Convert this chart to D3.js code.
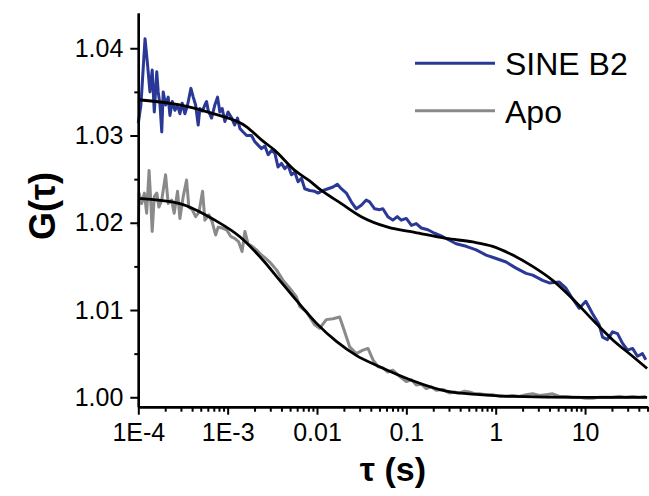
<!DOCTYPE html>
<html lang="en">
<head>
  <meta charset="UTF-8">
  <title>FCS curves</title>
  <script src="https://d3js.org/d3.v7.min.js"></script>
  <style>
    body { margin: 0; background: #fff; }
    svg { display: block; font-family: "Liberation Sans", Arial, sans-serif; }
  </style>
</head>
<body>
<div class="main"></div>
<script>

  // series: [tau (s), G(tau)]
  var sineB2 = [[1.00e-4,1.0314],[1.07e-4,1.0335],[1.19e-4,1.0411],[1.27e-4,1.0381],[1.35e-4,1.0350],[1.43e-4,1.0375],[1.51e-4,1.0327],[1.61e-4,1.0373],[1.67e-4,1.0350],[1.75e-4,1.0335],[1.83e-4,1.0304],[1.90e-4,1.0350],[2.02e-4,1.0335],[2.16e-4,1.0344],[2.26e-4,1.0323],[2.40e-4,1.0339],[2.57e-4,1.0329],[2.75e-4,1.0335],[2.92e-4,1.0325],[3.10e-4,1.0337],[3.32e-4,1.0325],[3.56e-4,1.0335],[3.88e-4,1.0354],[4.12e-4,1.0344],[4.38e-4,1.0335],[4.68e-4,1.0312],[4.89e-4,1.0331],[5.21e-4,1.0328],[5.56e-4,1.0335],[5.81e-4,1.0339],[6.05e-4,1.0329],[6.61e-4,1.0320],[7.19e-4,1.0335],[7.71e-4,1.0344],[8.18e-4,1.0327],[8.69e-4,1.0331],[9.31e-4,1.0316],[1.01e-3,1.0327],[1.11e-3,1.0320],[1.20e-3,1.0312],[1.29e-3,1.0320],[1.37e-3,1.0308],[1.49e-3,1.0304],[1.63e-3,1.0300],[1.85e-3,1.0300],[2.01e-3,1.0293],[2.19e-3,1.0289],[2.39e-3,1.0285],[2.61e-3,1.0288],[2.84e-3,1.0278],[3.10e-3,1.0283],[3.37e-3,1.0280],[3.66e-3,1.0264],[4.00e-3,1.0268],[4.36e-3,1.0262],[4.74e-3,1.0266],[5.18e-3,1.0255],[5.64e-3,1.0258],[6.14e-3,1.0247],[6.70e-3,1.0251],[7.29e-3,1.0239],[8.28e-3,1.0237],[9.42e-3,1.0236],[1.03e-2,1.0234],[1.17e-2,1.0237],[1.33e-2,1.0239],[1.51e-2,1.0241],[1.69e-2,1.0244],[1.87e-2,1.0239],[2.13e-2,1.0234],[2.42e-2,1.0224],[2.75e-2,1.0216],[3.13e-2,1.0220],[3.56e-2,1.0226],[3.88e-2,1.0224],[4.42e-2,1.0216],[5.02e-2,1.0215],[5.46e-2,1.0216],[6.21e-2,1.0207],[7.06e-2,1.0203],[7.91e-2,1.0207],[8.77e-2,1.0203],[9.98e-2,1.0205],[0.114,1.0197],[0.129,1.0199],[0.147,1.0194],[0.174,1.0192],[0.207,1.0188],[0.245,1.0185],[0.304,1.0180],[0.361,1.0176],[0.467,1.0173],[0.604,1.0169],[0.782,1.0163],[1.01,1.0159],[1.31,1.0155],[1.69,1.0148],[2.19,1.0142],[2.59,1.0140],[3.35,1.0134],[3.98,1.0131],[5.15,1.0132],[6.12,1.0125],[7.24,1.0113],[8.61,1.0102],[10.2,1.0110],[12.1,1.0096],[14.4,1.0083],[15.7,1.0069],[17.8,1.0066],[20.3,1.0075],[23.1,1.0073],[26.2,1.0062],[29.9,1.0054],[34.0,1.0056],[38.6,1.0047],[43.9,1.0050],[47.9,1.0043]];

  var apo = [[1.00e-4,1.0195],[1.02e-4,1.0234],[1.09e-4,1.0222],[1.17e-4,1.0234],[1.24e-4,1.0211],[1.32e-4,1.0260],[1.39e-4,1.0218],[1.43e-4,1.0190],[1.51e-4,1.0230],[1.61e-4,1.0234],[1.70e-4,1.0218],[1.83e-4,1.0226],[2.02e-4,1.0255],[2.16e-4,1.0222],[2.36e-4,1.0226],[2.52e-4,1.0211],[2.75e-4,1.0236],[2.92e-4,1.0205],[3.18e-4,1.0230],[3.47e-4,1.0249],[3.68e-4,1.0218],[4.01e-4,1.0215],[4.38e-4,1.0207],[4.77e-4,1.0212],[5.24e-4,1.0236],[5.56e-4,1.0203],[6.17e-4,1.0209],[6.71e-4,1.0201],[7.33e-4,1.0186],[7.83e-4,1.0195],[8.69e-4,1.0194],[9.72e-4,1.0192],[1.09e-3,1.0184],[1.20e-3,1.0182],[1.33e-3,1.0178],[1.45e-3,1.0167],[1.56e-3,1.0190],[1.69e-3,1.0176],[1.88e-3,1.0173],[2.10e-3,1.0169],[2.39e-3,1.0163],[2.61e-3,1.0160],[2.96e-3,1.0155],[3.52e-3,1.0146],[4.17e-3,1.0134],[4.95e-3,1.0125],[5.89e-3,1.0115],[6.41e-3,1.0104],[7.62e-3,1.0098],[9.42e-3,1.0083],[1.07e-2,1.0079],[1.27e-2,1.0089],[1.51e-2,1.0090],[1.79e-2,1.0092],[1.95e-2,1.0081],[2.32e-2,1.0058],[2.75e-2,1.0050],[3.27e-2,1.0054],[3.72e-2,1.0056],[4.23e-2,1.0043],[4.81e-2,1.0035],[5.42e-2,1.0034],[6.17e-2,1.0029],[7.06e-2,1.0031],[8.39e-2,1.0024],[9.98e-2,1.0018],[0.114,1.0020],[0.129,1.0014],[0.147,1.0015],[0.167,1.0010],[0.190,1.0012],[0.216,1.0008],[0.256,1.0009],[0.304,1.0005],[0.346,1.0006],[0.393,1.0005],[0.447,1.0007],[0.508,1.0006],[0.578,1.0004],[0.658,1.0004],[0.782,1.0003],[0.925,1.0003],[1.10,1.0001],[1.31,1.0001],[1.55,1.0002],[1.84,1.0001],[2.19,1.0003],[2.59,1.0004],[3.08,1.0002],[3.66,1.0003],[4.34,1.0004],[5.15,1.0001],[6.12,1.0001],[7.24,1.0000],[8.61,1.0000],[10.2,0.9999],[12.1,0.9999],[14.4,1.0000],[17.1,1.0000],[20.3,1.0000],[24.1,1.0001],[28.6,1.0000],[34.0,1.0001],[40.4,1.0000],[47.9,1.0001]];

  // fitted curves (black)
  var sineB2Fit = [[1.00e-4,1.0341],[2.92e-4,1.0335],[6.89e-4,1.0325],[1.63e-3,1.0310],[2.39e-3,1.0295],[3.37e-3,1.0283],[5.64e-3,1.0260],[8.28e-3,1.0248],[1.12e-2,1.0237],[1.87e-2,1.0222],[3.13e-2,1.0207],[6.21e-2,1.0195],[0.124,1.0189],[0.279,1.0182],[0.553,1.0178],[0.925,1.0173],[1.55,1.0163],[2.59,1.0150],[4.34,1.0134],[7.24,1.0113],[12.1,1.0089],[20.3,1.0066],[34.0,1.0047],[49.5,1.0033]];

  var apoFit = [[1.00e-4,1.0228],[2.92e-4,1.0222],[7.19e-4,1.0203],[1.37e-3,1.0184],[2.49e-3,1.0157],[3.83e-3,1.0134],[5.89e-3,1.0111],[9.84e-3,1.0085],[1.65e-2,1.0064],[2.75e-2,1.0048],[5.02e-2,1.0035],[0.118,1.0019],[0.279,1.0007],[0.658,1.0003],[1.55,1.0001],[8.61,1.0000],[49.5,1.0000]];

  var seriesNames = ["SINE B2", "Apo"];
  var seriesColors = ["#2a3896", "#8a8a8a"];

  var xMajorTicks = [1e-4, 1e-3, 0.01, 0.1, 1, 10];
  var xTickLabels = ["1E-4", "1E-3", "0.01", "0.1", "1", "10"];
  var yMajorTicks = [1.00, 1.01, 1.02, 1.03, 1.04];
  var yMinorTicks = [1.005, 1.015, 1.025, 1.035];

  let width = 649;
  let height = 496;
  let margin = {top: 13, right: 1.5, bottom: 89.3, left: 138.3};

  let xScale = d3.scaleLog()
          .domain([1e-4, 50])
          .range([margin.left, width - margin.right]);

  let yScale = d3.scaleLinear()
          .domain([0.99892, 1.04404])
          .range([height - margin.bottom, margin.top]);

  let svg = d3.select(".main")
          .append("svg")
          .attr("width", width)
          .attr("height", height);

  let line = d3.line()
          .x(d => xScale(d[0]))
          .y(d => yScale(d[1]));

  let smooth = d3.line()
          .curve(d3.curveMonotoneX)
          .x(d => xScale(d[0]))
          .y(d => yScale(d[1]));

  // raw traces
  svg.append("path").datum(apo)
          .attr("d", line)
          .attr("fill", "none")
          .attr("stroke", seriesColors[1])
          .attr("stroke-width", 3)
          .attr("stroke-linejoin", "round");

  svg.append("path").datum(sineB2)
          .attr("d", line)
          .attr("fill", "none")
          .attr("stroke", seriesColors[0])
          .attr("stroke-width", 3)
          .attr("stroke-linejoin", "round");

  // fits on top
  [sineB2Fit, apoFit].forEach(function (fit) {
    svg.append("path").datum(fit)
            .attr("d", smooth)
            .attr("fill", "none")
            .attr("stroke", "#000")
            .attr("stroke-width", 2.8);
  });

  // axes
  let minorX = xScale.ticks().filter(t => xMajorTicks.indexOf(t) < 0);

  function draw(axis, translate) {
    let g = svg.append("g")
            .attr("transform", translate)
            .call(axis);
    g.select(".domain").attr("stroke-width", 2.4);
    g.selectAll(".tick line").attr("stroke-width", 2);
    g.selectAll(".tick text")
            .style("font-size", "25px")
            .style("font-family", "'Liberation Sans', Arial, sans-serif")
            .attr("fill", "#000");
    return g;
  }

  draw(d3.axisBottom(xScale).tickValues(minorX).tickSize(5).tickSizeOuter(0).tickFormat(""),
          `translate(0,${height - margin.bottom})`);
  draw(d3.axisBottom(xScale).tickValues(xMajorTicks).tickSize(8).tickSizeOuter(0).tickPadding(8.5)
          .tickFormat((d, i) => xTickLabels[i]),
          `translate(0,${height - margin.bottom})`);

  draw(d3.axisLeft(yScale).tickValues(yMinorTicks).tickSize(4).tickSizeOuter(0).tickFormat(""),
          `translate(${margin.left},0)`);
  draw(d3.axisLeft(yScale).tickValues(yMajorTicks).tickSize(8).tickSizeOuter(0).tickPadding(7)
          .tickFormat(d3.format(".2f")),
          `translate(${margin.left},0)`);

  // axis titles
  svg.append("text")
          .attr("transform", "translate(55,206) rotate(-90)")
          .attr("text-anchor", "middle")
          .style("font-size", "36px")
          .style("font-weight", "bold")
          .text("G(τ)");

  svg.append("text")
          .attr("x", (margin.left + width - margin.right) / 2)
          .attr("y", 481)
          .attr("text-anchor", "middle")
          .style("font-size", "34px")
          .style("font-weight", "bold")
          .text("τ (s)");

  // legend
  let legend = svg.append("g").attr("transform", "translate(415,63.3)");
  seriesNames.forEach(function (name, i) {
    let row = legend.append("g").attr("transform", `translate(0,${i * 47.4})`);
    row.append("line")
            .attr("x1", 0).attr("x2", 80)
            .attr("stroke", seriesColors[i])
            .attr("stroke-width", 3);
    row.append("text")
            .attr("x", 90)
            .attr("y", 12)
            .style("font-size", "32px")
            .text(name);
  });

</script>
</body>
</html>
